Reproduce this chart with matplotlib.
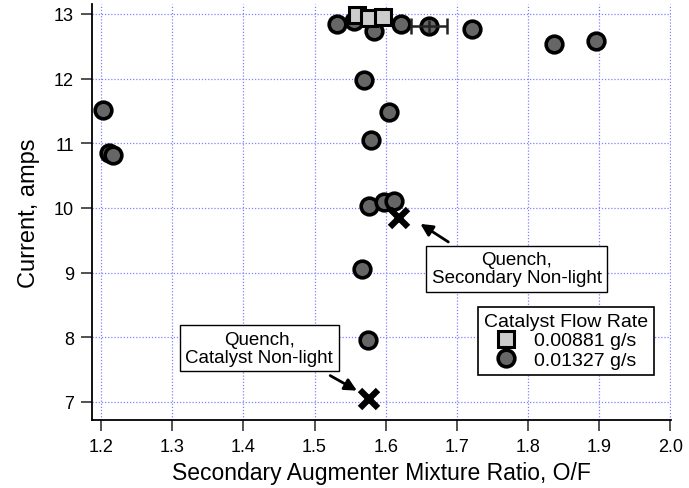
import matplotlib
matplotlib.use("Agg")
import matplotlib.pyplot as plt
import numpy as np

plt.rcParams['font.family'] = ['Liberation Sans', 'DejaVu Sans']

# 0.00881 g/s catalyst flow
low_x = [1.560, 1.577, 1.596]
low_y = [12.99, 12.93, 12.95]

# 0.01327 g/s catalyst flow
high_x = [1.203, 1.211, 1.217, 1.532, 1.555, 1.584, 1.6215, 1.721, 1.837, 1.896,
          1.569, 1.604, 1.579, 1.577, 1.598, 1.611, 1.567, 1.575]
high_y = [11.52, 10.85, 10.82, 12.845, 12.89, 12.74, 12.845, 12.77, 12.54, 12.58,
          11.98, 11.48, 11.05, 10.03, 10.09, 10.11, 9.06, 7.95]

# point with error bar
err_x, err_y, err_dx, err_dy = 1.661, 12.81, 0.025, 0.1

# quench points
quench_x = [1.618, 1.577]
quench_y = [9.84, 7.05]

notes = ["Quench,\nSecondary Non-light", "Quench,\nCatalyst Non-light"]
note_pos = [(1.784, 9.06), (1.422, 7.828)]
arrow_tip = [(1.6487, 9.753), (1.5596, 7.175)]
arrow_tail = [(1.688, 9.474), (1.522, 7.407)]

xticks = np.arange(1.2, 2.01, 0.1)
yticks = [7, 8, 9, 10, 11, 12, 13]

fig = plt.figure(figsize=(6.89, 4.89), dpi=100)
ax = fig.add_axes([0.1335, 0.139, 0.8405, 0.851])

ax.grid(True, color='#8080ff', linestyle=(0, (1, 1.5)), linewidth=0.9)
ax.set_axisbelow(True)

ax.plot(high_x, high_y, 'o', ms=12, mew=2.6, mfc='#666666', mec='k',
        clip_on=False, zorder=3, label='0.01327 g/s')
ax.plot([err_x], [err_y], 'o', ms=12, mew=2.6, mfc='#666666', mec='k',
        clip_on=False, zorder=3)
ax.errorbar([err_x], [err_y], xerr=[err_dx], fmt='none', ecolor='#222222',
            elinewidth=1.8, capsize=6, capthick=1.8, zorder=4)
ax.errorbar([err_x], [err_y], yerr=[err_dy], fmt='none', ecolor='#222222',
            elinewidth=1.8, capsize=0, zorder=4)
ax.plot(low_x, low_y, 's', ms=11.5, mew=2.2, mfc='#cccccc', mec='k',
        clip_on=False, zorder=5, label='0.00881 g/s')
ax.plot(quench_x, quench_y, 'x', ms=13, mew=4.5, color='k', zorder=5)

for txt, pos, tip, tail in zip(notes, note_pos, arrow_tip, arrow_tail):
    ax.text(pos[0], pos[1], txt, fontsize=13.5, ha='center', va='center',
            multialignment='center', linespacing=1.05, zorder=6,
            bbox=dict(boxstyle='square,pad=0.3', fc='white', ec='k', lw=1))
    ax.annotate('', xy=tip, xytext=tail,
                arrowprops=dict(arrowstyle='-|>', color='k', lw=2,
                                mutation_scale=18, shrinkA=0, shrinkB=0))

ax.set_xlim(1.1873, 2.001)
ax.set_ylim(6.72, 13.155)
ax.set_xticks(xticks)
ax.set_xticklabels([f'{v:.1f}' for v in xticks])
ax.set_yticks(yticks)

ax.spines['top'].set_visible(False)
ax.spines['right'].set_visible(False)
ax.spines['left'].set_linewidth(1.3)
ax.spines['bottom'].set_linewidth(1.3)
ax.tick_params(direction='out', length=8, width=1.3, color='#444444',
               labelsize=13, pad=5)

ax.set_xlabel('Secondary Augmenter Mixture Ratio, O/F', fontsize=16.5, labelpad=4)
ax.set_ylabel('Current, amps', fontsize=17, labelpad=10)

h, l = ax.get_legend_handles_labels()
leg = ax.legend(h[::-1], l[::-1], title='Catalyst Flow Rate', fontsize=14,
                title_fontsize=14, loc='upper right',
                bbox_to_anchor=(0.9706, 0.2716), borderaxespad=0,
                fancybox=False, framealpha=1, edgecolor='k',
                handlelength=1, handletextpad=0.9, borderpad=0.3,
                labelspacing=0.1)
leg.get_frame().set_linewidth(1.2)
leg.set_zorder(7)

fig.savefig('out.png', dpi=100)
